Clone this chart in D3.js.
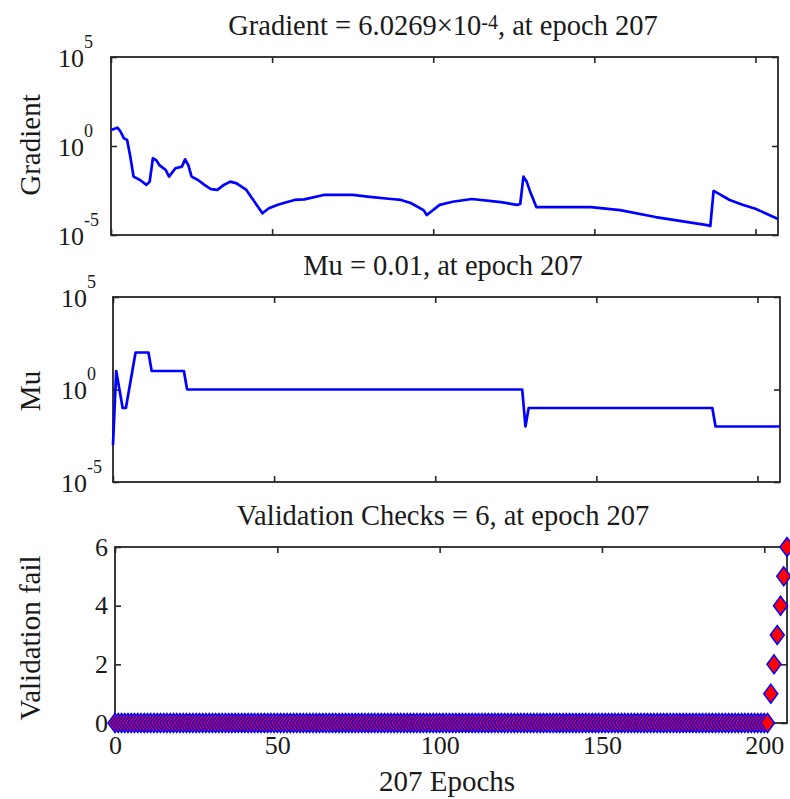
<!DOCTYPE html>
<html><head><meta charset="utf-8">
<script src="https://cdn.jsdelivr.net/npm/d3@7"></script>
<style>
body{margin:0;background:#fff}
text{font-family:"Liberation Serif","Times New Roman",serif;fill:#1a1a1a}
</style>
</head><body>
<svg id="c" width="790" height="799"></svg>
<script>
// ---------- data ----------
const epochTicks = [0, 50, 100, 150, 200];
const epochTickLabels = ["0", "50", "100", "150", "200"];
const logTicks = [1e-5, 1, 1e5];
const logTickExps = ["-5", "0", "5"];
const valTicks = [0, 2, 4, 6];

const gradEpochs = [0, 2, 3, 4, 5, 6, 7, 9, 11, 12, 13, 14, 15, 17, 18, 20, 22, 23, 24, 25, 27, 29, 31, 33, 35, 37, 39, 42, 47, 49, 52, 55, 57, 60, 66, 75, 81, 87, 90, 93, 97, 98, 102, 106, 112, 121, 126, 127, 128, 129, 130, 132, 149, 158, 169, 185, 186, 187, 188, 192, 196, 200, 207];
const gradValues = [7.9, 10.7, 6.3, 2.7, 2.2, 0.25, 0.019, 0.0123, 0.0065, 0.010, 0.204, 0.162, 0.085, 0.045, 0.019, 0.056, 0.069, 0.178, 0.085, 0.019, 0.0123, 0.0065, 0.0038, 0.0034, 0.0065, 0.010, 0.0079, 0.0034, 1.66e-4, 3.2e-4, 5.2e-4, 7.4e-4, 9.3e-4, 1.0e-3, 1.78e-3, 1.78e-3, 1.35e-3, 1.05e-3, 9.3e-4, 6.3e-4, 2.5e-4, 1.32e-4, 4.9e-4, 7.4e-4, 1.05e-3, 7.1e-4, 4.9e-4, 5.5e-4, 0.019, 0.010, 0.003, 3.7e-4, 3.7e-4, 2.5e-4, 1.02e-4, 3.6e-5, 3.2e-5, 2.95e-3, 2.4e-3, 9.3e-4, 5.0e-4, 3.0e-4, 7.9e-5];

const muEpochs = [0, 1, 2, 3, 4, 5, 6, 7, 11, 12, 22, 23, 127, 128, 129, 186, 187, 207];
const muValues = [1e-3, 10, 1, 0.1, 0.1, 1, 10, 100, 100, 10, 10, 1, 1, 0.01, 0.1, 0.1, 0.01, 0.01];

// validation failures per epoch 0..207
const valFail = [
0,0,0,0,0,0,0,0,0,0, 0,0,0,0,0,0,0,0,0,0, 0,0,0,0,0,0,0,0,0,0, 0,0,0,0,0,0,0,0,0,0,
0,0,0,0,0,0,0,0,0,0, 0,0,0,0,0,0,0,0,0,0, 0,0,0,0,0,0,0,0,0,0, 0,0,0,0,0,0,0,0,0,0,
0,0,0,0,0,0,0,0,0,0, 0,0,0,0,0,0,0,0,0,0, 0,0,0,0,0,0,0,0,0,0, 0,0,0,0,0,0,0,0,0,0,
0,0,0,0,0,0,0,0,0,0, 0,0,0,0,0,0,0,0,0,0, 0,0,0,0,0,0,0,0,0,0, 0,0,0,0,0,0,0,0,0,0,
0,0,0,0,0,0,0,0,0,0, 0,0,0,0,0,0,0,0,0,0, 0,0,0,0,0,0,0,0,0,0, 0,0,0,0,0,0,0,0,0,0,
0,0,1,2,3,4,5,6];

const totalEpochs = 207;

// ---------- layout ----------
const svg = d3.select("#c");
const AX = "#262626";
const panels = {
  grad: {x0: 111, x1: 778, y0: 57, y1: 235},
  mu:   {x0: 113, x1: 780, y0: 297, y1: 482},
  val:  {x0: 115, x1: 787, y0: 547, y1: 723}
};

function styleAxis(g) {
  g.select(".domain").remove();
  g.selectAll(".tick line").attr("stroke", AX).attr("stroke-width", 1.6);
  g.selectAll(".tick text").attr("fill", "#1a1a1a").style("font-size", "26px")
    .style("font-family", '"Liberation Serif","Times New Roman",serif');
}

function frame(p, x, y, yTickVals, showX, showYLabels) {
  svg.append("g").attr("transform", `translate(0,${p.y1})`)
    .call(d3.axisBottom(x).tickValues(epochTicks).tickSize(-6).tickPadding(13)
      .tickFormat((d, i) => showX ? epochTickLabels[i] : ""))
    .call(styleAxis);
  svg.append("g").attr("transform", `translate(0,${p.y0})`)
    .call(d3.axisTop(x).tickValues(epochTicks).tickSize(-6).tickFormat(""))
    .call(styleAxis);
  svg.append("g").attr("transform", `translate(${p.x0},0)`)
    .call(d3.axisLeft(y).tickValues(yTickVals).tickSize(-6).tickPadding(7)
      .tickFormat(d => showYLabels ? String(d) : ""))
    .call(styleAxis);
  svg.append("g").attr("transform", `translate(${p.x1},0)`)
    .call(d3.axisRight(y).tickValues(yTickVals).tickSize(-6).tickFormat(""))
    .call(styleAxis);
  svg.append("rect").attr("x", p.x0).attr("y", p.y0)
    .attr("width", p.x1 - p.x0).attr("height", p.y1 - p.y0)
    .attr("fill", "none").attr("stroke", AX).attr("stroke-width", 1.8);
}

function logLabels(p, y, labelX) {
  logTicks.forEach((v, i) => {
    const t = svg.append("text").attr("x", labelX).attr("y", y(v) + 9.5)
      .style("font-size", "26px");
    t.append("tspan").text("10");
    t.append("tspan").attr("dy", -19).style("font-size", "18px").text(logTickExps[i]);
  });
}

function title(p, build, baseline) {
  const t = svg.append("text").attr("x", 443).attr("y", baseline)
    .attr("text-anchor", "middle").style("font-size", "28.5px");
  build(t);
}

function yLabel(text, cy) {
  svg.append("text").attr("transform", `translate(40,${cy}) rotate(-90)`)
    .attr("text-anchor", "middle").style("font-size", "29px").text(text);
}

// ---------- Gradient panel ----------
{
  const p = panels.grad;
  const x = d3.scaleLinear().domain([0, totalEpochs]).range([p.x0, p.x1]);
  const y = d3.scaleLog().domain([1e-5, 1e5]).range([p.y1, p.y0]);
  frame(p, x, y, logTicks, false, false);
  logLabels(p, y, 58);
  const data = gradEpochs.map((e, i) => ({e, v: gradValues[i]}));
  svg.append("path").datum(data)
    .attr("d", d3.line().x(d => x(d.e)).y(d => y(d.v)))
    .attr("fill", "none").attr("stroke", "#0000ff").attr("stroke-width", 2.7)
    .attr("stroke-linejoin", "round");
  title(p, t => {
    t.append("tspan").text("Gradient = 6.0269×10");
    t.append("tspan").attr("dy", -6).style("font-size", "20px").text("-4");
    t.append("tspan").attr("dy", 6).text(", at epoch 207");
  }, 35);
  yLabel("Gradient", 145);
}

// ---------- Mu panel ----------
{
  const p = panels.mu;
  const x = d3.scaleLinear().domain([0, totalEpochs]).range([p.x0, p.x1]);
  const y = d3.scaleLog().domain([1e-5, 1e5]).range([p.y1, p.y0]);
  frame(p, x, y, logTicks, false, false);
  logLabels(p, y, 61);
  const data = muEpochs.map((e, i) => ({e, v: muValues[i]}));
  svg.append("path").datum(data)
    .attr("d", d3.line().x(d => x(d.e)).y(d => y(d.v)))
    .attr("fill", "none").attr("stroke", "#0000ff").attr("stroke-width", 2.7)
    .attr("stroke-linejoin", "round");
  title(p, t => t.text("Mu = 0.01, at epoch 207"), 275);
  yLabel("Mu", 391);
}

// ---------- Validation panel ----------
{
  const p = panels.val;
  const x = d3.scaleLinear().domain([0, totalEpochs]).range([p.x0, p.x1]);
  const y = d3.scaleLinear().domain([0, 6]).range([p.y1, p.y0]);
  frame(p, x, y, valTicks, true, true);
  const diamond = "M0,-9.5L7,0L0,9.5L-7,0Z";
  svg.append("g").selectAll("path").data(valFail).join("path")
    .attr("d", diamond)
    .attr("transform", (d, i) => `translate(${x(i)},${y(d)})`)
    .attr("fill", "#ff0000").attr("stroke", "#0000ff").attr("stroke-width", 1.5);
  title(p, t => t.text("Validation Checks = 6, at epoch 207"), 525);
  yLabel("Validation fail", 638);
  svg.append("text").attr("x", 447).attr("y", 791).attr("text-anchor", "middle")
    .style("font-size", "29px").text(totalEpochs + " Epochs");
}
</script>
</body></html>
